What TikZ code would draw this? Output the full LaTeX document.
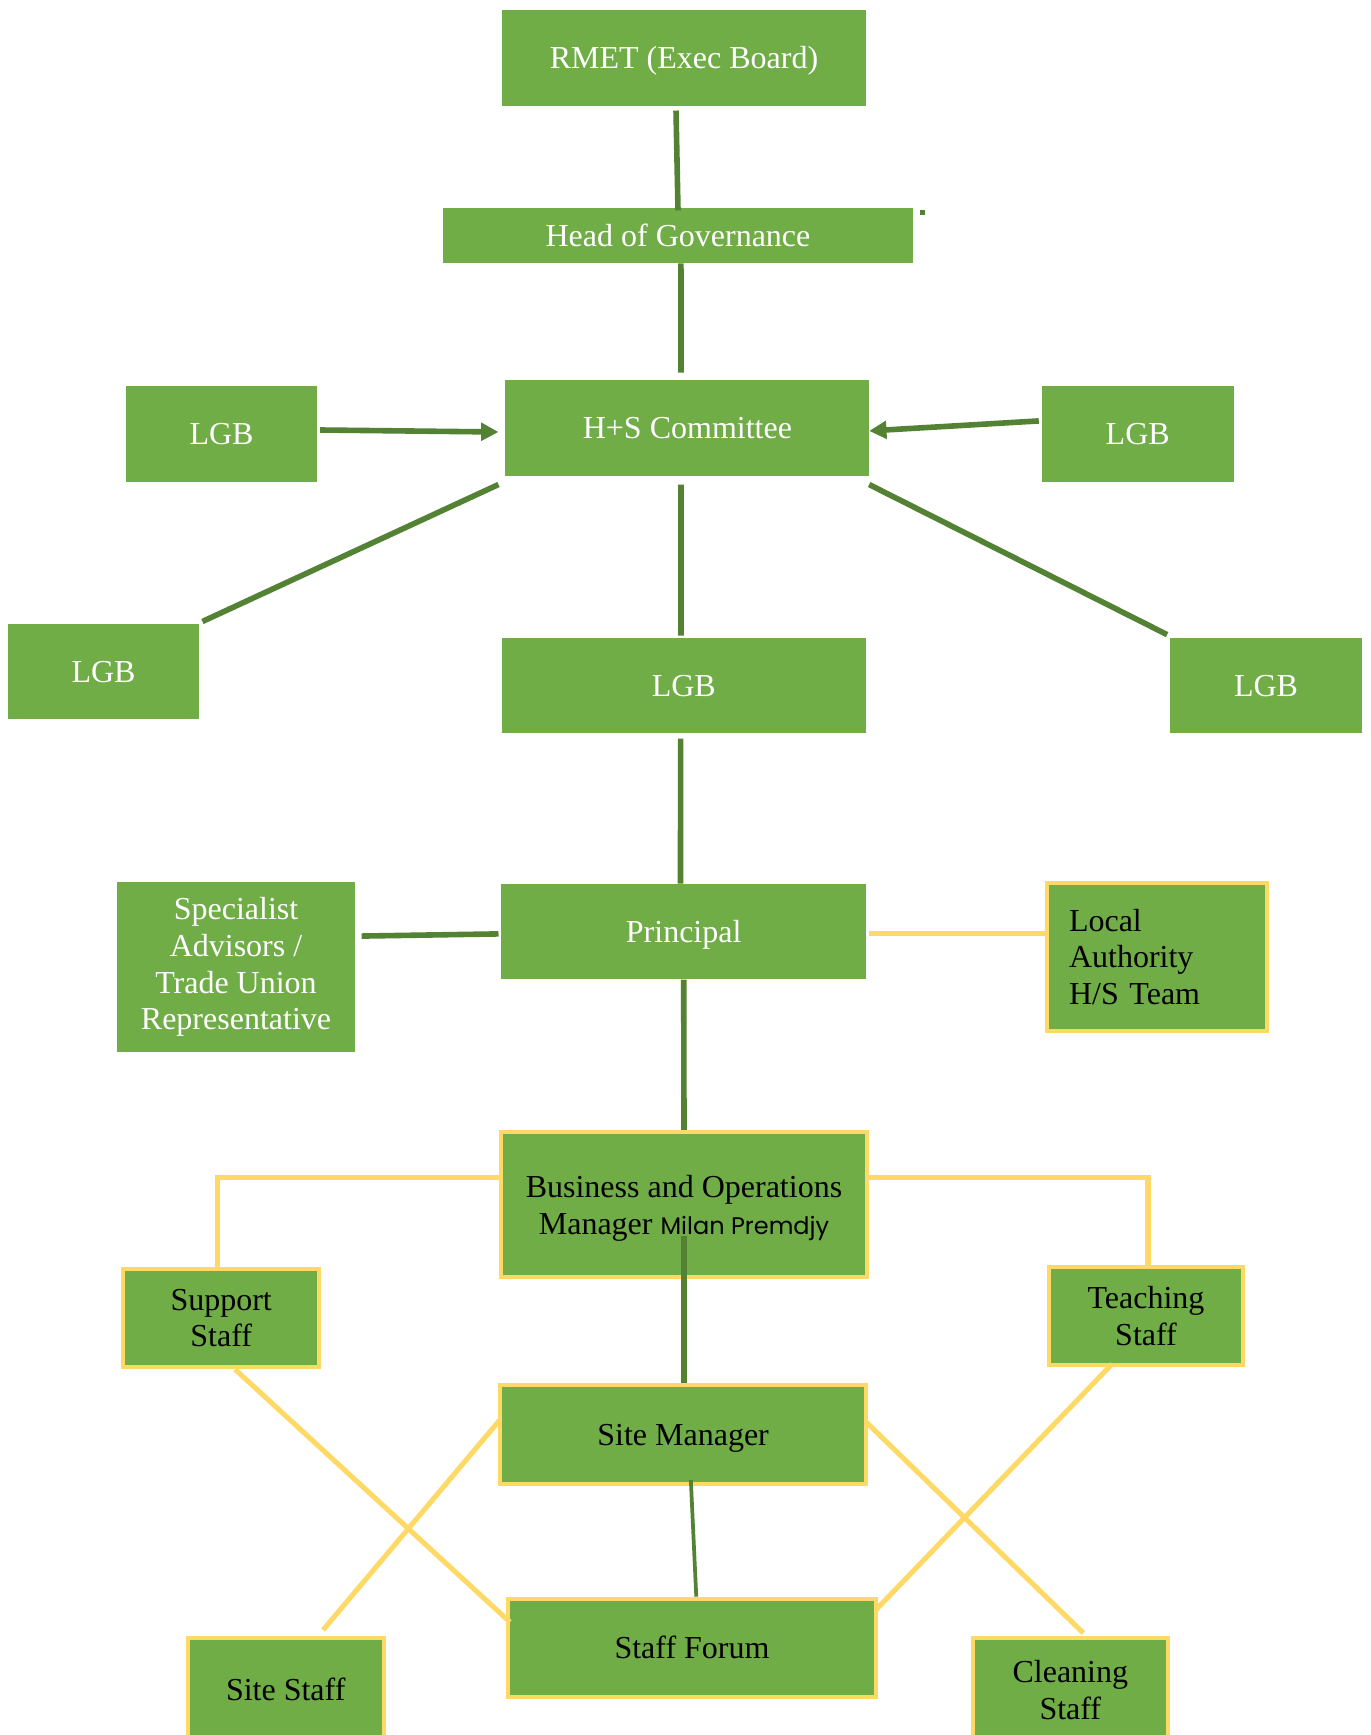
\documentclass[tikz,border=0pt]{standalone}
\usepackage{fontspec}
\setmainfont{Liberation Serif}
\newfontfamily\poppinsfont{Poppins}
\usepackage{tikz}
\usetikzlibrary{arrows.meta}
\definecolor{boxg}{RGB}{112,173,71}
\definecolor{lineg}{RGB}{84,130,53}
\definecolor{boxy}{RGB}{255,217,102}

\begin{document}
\begin{tikzpicture}[x=0.375pt,y=-0.375pt,
    gbox/.style={fill=boxg,text=white,inner sep=0pt,align=center,
        font=\fontsize{12}{13.8}\selectfont,minimum width=136.5pt,minimum height=36pt},
    ybox/.style={fill=boxg,draw=boxy,line width=1.5pt,text=black,inner sep=0pt,align=center,
        font=\fontsize{12}{13.8}\selectfont},
    oneline/.style={text height=7.9pt,text depth=0pt},
    gline/.style={draw=lineg,line width=2.1pt},
    yline/.style={draw=boxy,line width=1.9pt}]
    % Rahmen
    \useasboundingbox (0,0) rectangle (1370,1735);
    \clip (0,0) rectangle (1370,1735);

    % Knoten oben
    \node[gbox,oneline] (rmet) at (684,58) {RMET (Exec Board)};
    \node[gbox,minimum width=176.25pt,minimum height=20.6pt] (hog) at (678,235.5) {Head of Governance};
    \node[gbox,oneline] (hs) at (687.4,428) {H+S Committee};
    \node[gbox,oneline,minimum width=71.6pt] (lgbA) at (221.5,434) {LGB};
    \node[gbox,oneline,minimum width=72pt] (lgbB) at (1137.7,434) {LGB};
    \node[gbox,oneline,minimum width=71.6pt,minimum height=35.6pt] (lgbC) at (103.5,671.5) {LGB};
    \node[gbox,oneline,minimum height=35.6pt] (lgbD) at (683.8,685.5) {LGB};
    \node[gbox,oneline,minimum width=72pt,minimum height=35.6pt] (lgbE) at (1266,685.8) {LGB};
    \node[gbox,minimum width=89.25pt,minimum height=63.75pt] (spec) at (236,967)
        {Specialist\\Advisors /\\Trade Union\\Representative};
    \node[gbox,oneline,minimum width=136.7pt,minimum height=35.6pt] (prin) at (683.7,931.5) {Principal};
    \fill[lineg] (920,210) rectangle (925,215);

    % Knoten unten
    \node[ybox,minimum width=82.5pt,minimum height=55.5pt,text width=66pt,align=left] (la) at (1157,957)
        {Local\\Authority\\H/S Team};
    \node[ybox,minimum width=137.6pt,minimum height=54.4pt] (bom) at (684,1204.5)
        {\rule{0pt}{11.5pt}Business and Operations\\Manager {\poppinsfont\fontsize{9}{10}\selectfont Milan Premdjy}};
    \node[ybox,minimum width=73.35pt,minimum height=37pt] (sup) at (221.2,1318) {Support\\Staff};
    \node[ybox,minimum width=73.1pt,minimum height=36.6pt] (teach) at (1146,1315.85) {Teaching\\Staff};
    \node[ybox,oneline,minimum width=137.4pt,minimum height=37pt] (site) at (683.1,1434.65) {Site Manager};
    \node[ybox,oneline,minimum width=137.7pt,minimum height=37pt] (forum) at (692,1648) {Staff Forum};
    \node[ybox,oneline,minimum width=73.5pt,minimum height=39pt] (sstaff) at (285.7,1690) {Site Staff};
    \node[ybox,minimum width=73.25pt,minimum height=39pt] (clean) at (1070.3,1690) {Cleaning\\Staff};

    % Verbindungen gruen
    \draw[gline] ([xshift=-3pt,yshift=-1.5pt]rmet.south) -- ([yshift=-1.1pt]hog.north);
    \draw[gline] ([xshift=1.1pt]hog.south) -- ([xshift=-2.4pt,yshift=2.6pt]hs.north);
    \draw[gline,-{Triangle[length=6.5pt,width=6.5pt]}] ([xshift=1pt,yshift=1.5pt]lgbA.east)
        -- ([xshift=-2.4pt,yshift=-1.5pt]hs.west);
    \draw[gline,-{Triangle[length=6.5pt,width=6.5pt]}] ([xshift=-0.9pt,yshift=4.9pt]lgbB.west)
        -- ([xshift=-0.3pt,yshift=-1.1pt]hs.east);
    \draw[gline] ([xshift=-2.4pt,yshift=-3pt]hs.south west) -- ([xshift=1.1pt,yshift=0.75pt]lgbC.north east);
    \draw[gline] ([xshift=-2.4pt,yshift=-3pt]hs.south) -- ([xshift=-1.05pt,yshift=0.75pt]lgbD.north);
    \draw[gline] ([xshift=-0.3pt,yshift=-3pt]hs.south east) -- ([xshift=-0.9pt,yshift=1.2pt]lgbE.north west);
    \draw[gline] ([xshift=-1.2pt,yshift=-1.9pt]lgbD.south) -- ([xshift=-1.2pt]prin.north);
    \draw[gline] ([xshift=2.25pt,yshift=11.6pt]spec.east) -- ([xshift=-0.9pt,yshift=-0.9pt]prin.west);
    \draw[gline] (prin.south) -- (bom.north);
    \coordinate (b1) at ([yshift=16.3pt]bom.south);
    \draw[gline] (b1) -- (b1 |- site.north);
    \draw[draw=lineg,line width=1.4pt] ([xshift=2.9pt,yshift=2.25pt]site.south) -- ([xshift=1.6pt]forum.north);

    % Verbindungen gelb
    \coordinate (p1) at ([xshift=0.75pt,yshift=-0.9pt]prin.east);
    \draw[yline] (p1) -- (p1 -| la.west);
    \draw[yline] ([yshift=10pt]bom.west) -| ([xshift=-1.5pt]sup.north);
    \draw[yline] ([yshift=10pt]bom.east) -| ([xshift=0.75pt]teach.north);
    \draw[yline] ([xshift=5.2pt]sup.south) -- ([xshift=1.3pt,yshift=9.75pt]forum.west);
    \draw[yline] ([xshift=0.7pt,yshift=5.5pt]site.west) -- ([xshift=14pt,yshift=2.25pt]sstaff.north);
    \draw[yline] ([xshift=-1pt,yshift=4.9pt]site.east) -- ([xshift=4.9pt,yshift=1.1pt]clean.north);
    \draw[yline] ([xshift=-12.75pt,yshift=1pt]teach.south) -- ([xshift=-0.7pt,yshift=14.25pt]forum.east);
\end{tikzpicture}
\end{document}
